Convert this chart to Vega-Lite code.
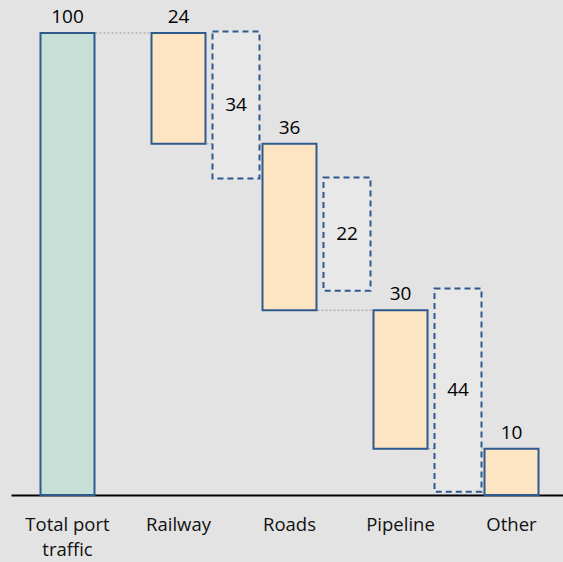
{
  "$schema": "https://vega.github.io/schema/vega-lite/v6.json",
  "width": 552,
  "height": 495,
  "autosize": {"type": "none"},
  "padding": {"left": 11, "top": 0, "right": 0, "bottom": 67},
  "background": "#e3e3e3",
  "config": {"view": {"stroke": null}, "font": "Open Sans", "scale": {"continuousPadding": 0}},
  "datasets": {
    "bars": [
      {"idx": 0, "name": "Total port\ntraffic", "low": 0, "high": 100, "value": 100, "kind": "total"},
      {"idx": 1, "name": "Railway", "low": 76, "high": 100, "value": 24, "kind": "mode"},
      {"idx": 2, "name": "Roads", "low": 40, "high": 76, "value": 36, "kind": "mode"},
      {"idx": 3, "name": "Pipeline", "low": 10, "high": 40, "value": 30, "kind": "mode"},
      {"idx": 4, "name": "Other", "low": 0, "high": 10, "value": 10, "kind": "mode"}
    ],
    "gaps": [
      {"pos": 1.5, "low": 68.5, "high": 100.3, "value": 34},
      {"pos": 2.5, "low": 44.2, "high": 68.7, "value": 22},
      {"pos": 3.5, "low": 0.7, "high": 44.7, "value": 44}
    ],
    "links": [
      {"from": 0, "to": 1, "level": 100},
      {"from": 1, "to": 2, "level": 76},
      {"from": 2, "to": 3, "level": 40},
      {"from": 3, "to": 4, "level": 10}
    ]
  },
  "layer": [
    {
      "data": {"name": "links"},
      "mark": {"type": "rule", "color": "#9a9a9a", "strokeWidth": 1, "strokeDash": [2, 2]},
      "encoding": {
        "x": {"field": "from", "type": "quantitative", "scale": {"domain": [-0.509, 4.464], "nice": false, "zero": false, "padding": 0},
              "axis": {"labels": false, "ticks": false, "grid": false, "title": null, "domainColor": "#000000", "domainWidth": 2}},
        "x2": {"field": "to"},
        "y": {"field": "level", "type": "quantitative", "scale": {"domain": [0, 107.14], "nice": false, "zero": false, "padding": 0}, "axis": null}
      }
    },
    {
      "data": {"name": "gaps"},
      "mark": {"type": "bar", "width": 47, "xOffset": 2, "fill": "#e8e8e8", "stroke": "#2e5a8e", "strokeWidth": 2, "strokeDash": [6, 4]},
      "encoding": {
        "x": {"field": "pos", "type": "quantitative"},
        "y": {"field": "low", "type": "quantitative"},
        "y2": {"field": "high"}
      }
    },
    {
      "data": {"name": "bars"},
      "mark": {"type": "bar", "width": 54, "stroke": "#2e5a8e", "strokeWidth": 2},
      "encoding": {
        "x": {"field": "idx", "type": "quantitative"},
        "y": {"field": "low", "type": "quantitative"},
        "y2": {"field": "high"},
        "fill": {"field": "kind", "type": "nominal", "scale": {"domain": ["total", "mode"], "range": ["#c6dfd7", "#fde4c3"]}, "legend": null}
      }
    },
    {
      "data": {"name": "bars"},
      "mark": {"type": "text", "fontSize": 19, "color": "#000000", "dy": -10, "baseline": "alphabetic"},
      "encoding": {
        "x": {"field": "idx", "type": "quantitative"},
        "y": {"field": "high", "type": "quantitative"},
        "text": {"field": "value", "type": "quantitative"}
      }
    },
    {
      "data": {"name": "gaps"},
      "transform": [{"fold": ["low", "high"], "as": ["edge", "level"]}],
      "mark": {"type": "text", "fontSize": 19, "color": "#000000", "baseline": "middle", "dx": 2},
      "encoding": {
        "x": {"field": "pos", "type": "quantitative"},
        "y": {"aggregate": "mean", "field": "level", "type": "quantitative"},
        "detail": {"field": "value", "type": "quantitative"},
        "text": {"field": "value", "type": "quantitative"}
      }
    },
    {
      "data": {"name": "bars"},
      "mark": {"type": "text", "fontSize": 18.5, "color": "#111111", "baseline": "alphabetic", "dy": 36, "lineBreak": "\n", "lineHeight": 25.3},
      "encoding": {
        "x": {"field": "idx", "type": "quantitative"},
        "y": {"datum": 0, "type": "quantitative"},
        "text": {"field": "name", "type": "nominal"}
      }
    }
  ]
}
